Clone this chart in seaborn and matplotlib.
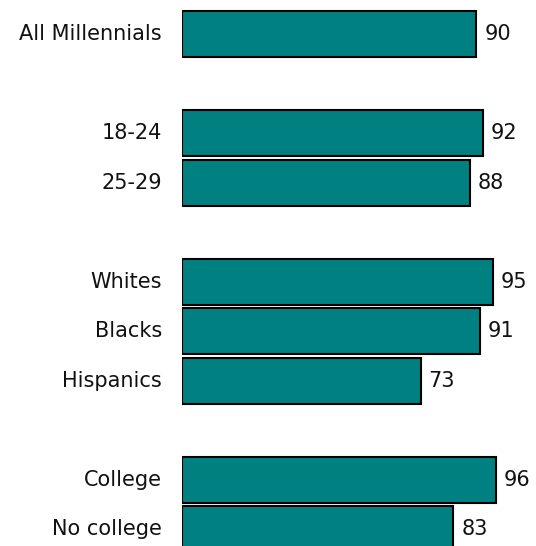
import matplotlib
matplotlib.use("Agg")
import matplotlib.pyplot as plt
import seaborn as sns
import pandas as pd

groups = [
    ["All Millennials"],
    ["18-24", "25-29"],
    ["Whites", "Blacks", "Hispanics"],
    ["College", "No college"],
]
values = [90, 92, 88, 95, 91, 73, 96, 83]

# build slot positions with one empty slot between groups
labels, slots = [], []
s = 0
for g in groups:
    for name in g:
        labels.append(name)
        slots.append(s)
        s += 1
    s += 1

df = pd.DataFrame({"label": labels, "value": values, "slot": slots})

sns.set_theme(style="white")
plt.rcParams["font.family"] = ["DejaVu Sans"]

fig = plt.figure(figsize=(5.36, 5.46), dpi=100)
ax = fig.add_axes([182 / 536, 0, (509 - 182) / 536, 1])

sns.barplot(data=df, x="value", y="slot", orient="h", native_scale=True,
            width=0.93, color="#008080", saturation=1,
            edgecolor="black", linewidth=1.5, ax=ax)

ax.set_xlim(0, 100)
ax.set_ylim(10.34, -0.687)
ax.axis("off")

px = 1 / 3.27
for lab, v, sl in zip(labels, values, slots):
    ax.text(-20 * px, sl, lab, ha="right", va="center", fontsize=15,
            color="#111111", clip_on=False)
    ax.text(v + 8 * px, sl, f"{v}", ha="left", va="center", fontsize=15,
            color="#111111", clip_on=False)

fig.savefig("out.png", dpi=100)
